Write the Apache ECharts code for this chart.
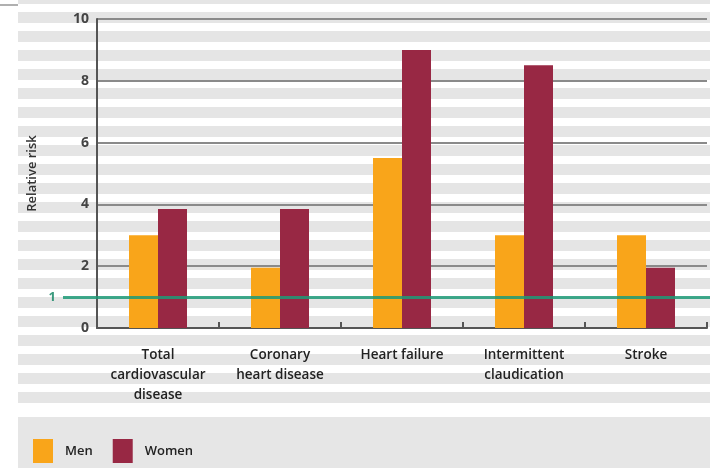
<!DOCTYPE html>
<html>
<head>
<meta charset="utf-8">
<script src="https://cdn.jsdelivr.net/npm/echarts@6/dist/echarts.min.js"></script>
<style>
  body { margin: 0; }
  #chart {
    width: 710px;
    height: 468px;
    background:
      linear-gradient(#b0b0b0, #b0b0b0) 0 4px / 18px 2px no-repeat,
      linear-gradient(#e6e6e6, #e6e6e6) 18px 417px / 692px 51px no-repeat,
      repeating-linear-gradient(to bottom, #e5e5e5 0px, #e5e5e5 11px, #fff 11px, #fff 19px) 18px -7px / 692px 410px no-repeat,
      #fff;
  }
</style>
</head>
<body>
<div id="chart"></div>
<script>
  // data
  const categories = [
    'Total\ncardiovascular\ndisease',
    'Coronary\nheart disease',
    'Heart failure',
    'Intermittent\nclaudication',
    'Stroke'
  ]
  const menRisk = [3.0, 1.95, 5.5, 3.0, 3.0]
  const womenRisk = [3.85, 3.85, 9.0, 8.5, 1.95]
  const yTicks = [0, 2, 4, 6, 8, 10]
  const referenceRisk = 1

  const chart = echarts.init(document.getElementById('chart'))

  const option = {
    backgroundColor: 'transparent',
    animation: false,
    textStyle: { fontFamily: 'Open Sans' },
    grid: { left: 97, right: 3, top: 19, bottom: 140 },
    legend: {
      data: ['Men', 'Women'],
      left: 28,
      top: 434,
      icon: 'rect',
      itemWidth: 20,
      itemHeight: 24,
      itemGap: 20,
      textStyle: { fontSize: 13, fontWeight: 600, color: '#222', padding: [0, 0, 0, 7] }
    },
    xAxis: {
      type: 'category',
      data: categories,
      axisLine: { lineStyle: { color: '#555', width: 2 } },
      axisTick: { show: true, inside: true, length: 6, interval: 0, lineStyle: { color: '#555', width: 2 } },
      axisLabel: { color: '#222', fontSize: 13.5, fontWeight: 600, lineHeight: 20, margin: 17, interval: 0, hideOverlap: false }
    },
    yAxis: {
      type: 'value',
      min: yTicks[0],
      max: yTicks[yTicks.length - 1],
      interval: 2,
      name: 'Relative risk',
      nameLocation: 'middle',
      nameGap: 58,
      nameTextStyle: { color: '#333', fontSize: 13, fontWeight: 600 },
      axisLine: { show: true, lineStyle: { color: '#555', width: 2 } },
      axisTick: { show: false },
      axisLabel: { color: '#444', fontSize: 14, fontWeight: 'bold', margin: 8 },
      splitLine: { lineStyle: { color: '#8a8a8a', width: 2 } }
    },
    series: [
      {
        name: 'Men',
        type: 'bar',
        data: menRisk,
        barWidth: 29,
        barGap: '0%',
        itemStyle: { color: '#f9a51a' }
      },
      {
        name: 'Women',
        type: 'bar',
        data: womenRisk,
        barWidth: 29,
        barGap: '0%',
        itemStyle: { color: '#982844' },
        markLine: {
          silent: true,
          symbol: 'none',
          lineStyle: { color: '#1d9a77', width: 3, type: 'solid', opacity: 0.85 },
          label: {
            show: true,
            position: 'start',
            formatter: String(referenceRisk),
            color: '#1a8a68',
            fontSize: 13,
            fontWeight: 'bold',
            distance: 7
          },
          data: [[{ x: 63, yAxis: referenceRisk }, { x: 710, yAxis: referenceRisk }]]
        }
      }
    ]
  }

  chart.setOption(option)
</script>
</body>
</html>
